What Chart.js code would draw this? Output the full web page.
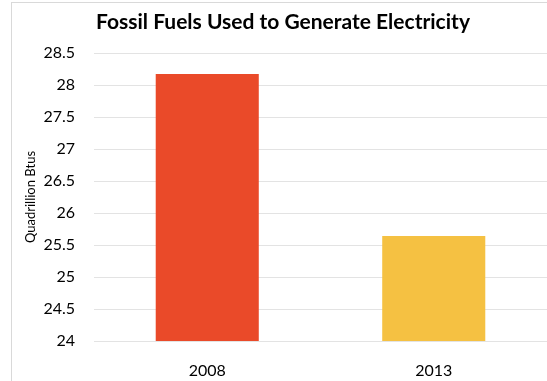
<!DOCTYPE html>
<html>
<head>
<meta charset="utf-8">
<script src="https://cdn.jsdelivr.net/npm/chart.js@4/dist/chart.umd.min.js"></script>
<style>
  html, body { margin: 0; padding: 0; background: #fff; }
  #wrap { position: relative; width: 547px; height: 381px; overflow: hidden; }
  #frame { position: absolute; left: 11px; top: 2px; right: -2px; bottom: -2px;
           border-left: 1px solid #d9d9d9; border-top: 1px solid #d9d9d9; }
  canvas { position: absolute; left: 0; top: 0; }
</style>
</head>
<body>
<div id="wrap">
  <div id="frame"></div>
  <canvas id="c" width="547" height="381"></canvas>
</div>
<script>
const chartTitle = 'Fossil Fuels Used to Generate Electricity';
const years = ['2008', '2013'];
const fuelUse = [28.17, 25.64];
const barColors = ['#EA4A29', '#F5C142'];
const axisTitle = 'Quadrillion Btus';
const yMin = 24, yMax = 28.5, yStep = 0.5;

const FONT = 'Lato, "Open Sans", sans-serif';

const titleDraw = {
  id: 'titleDraw',
  afterDraw(chart) {
    const ctx = chart.ctx;
    ctx.save();
    ctx.font = 'bold 21px ' + FONT;
    ctx.fillStyle = '#000';
    ctx.textAlign = 'center';
    ctx.textBaseline = 'middle';
    ctx.fillText(chartTitle, 283, 22);
    ctx.restore();
  }
};

new Chart(document.getElementById('c'), {
  type: 'bar',
  data: {
    labels: years,
    datasets: [{
      data: fuelUse,
      backgroundColor: barColors,
      borderWidth: 0,
      barPercentage: 0.455,
      categoryPercentage: 1
    }]
  },
  options: {
    responsive: false,
    animation: false,
    layout: { padding: { top: 53, right: 0, left: 0, bottom: 0 } },
    plugins: { legend: { display: false }, tooltip: { enabled: false } },
    scales: {
      x: {
        grid: { display: false },
        border: { display: false },
        ticks: { color: '#000', font: { family: FONT, size: 16 }, padding: 12 },
        afterFit(scale) { scale.height = 40; }
      },
      y: {
        min: yMin, max: yMax,
        grid: { color: '#e3e3e3', drawTicks: false },
        border: { display: false },
        ticks: {
          stepSize: yStep, color: '#000', font: { family: FONT, size: 16 }, padding: 19,
          callback: (v) => String(Math.round(v * 10) / 10)
        },
        title: { display: true, text: axisTitle, color: '#000', font: { family: FONT, size: 13 },
                 padding: { top: 23, bottom: 0 } },
        afterFit(scale) { scale.width = 94; }
      }
    }
  },
  plugins: [titleDraw]
});
</script>
</body>
</html>
